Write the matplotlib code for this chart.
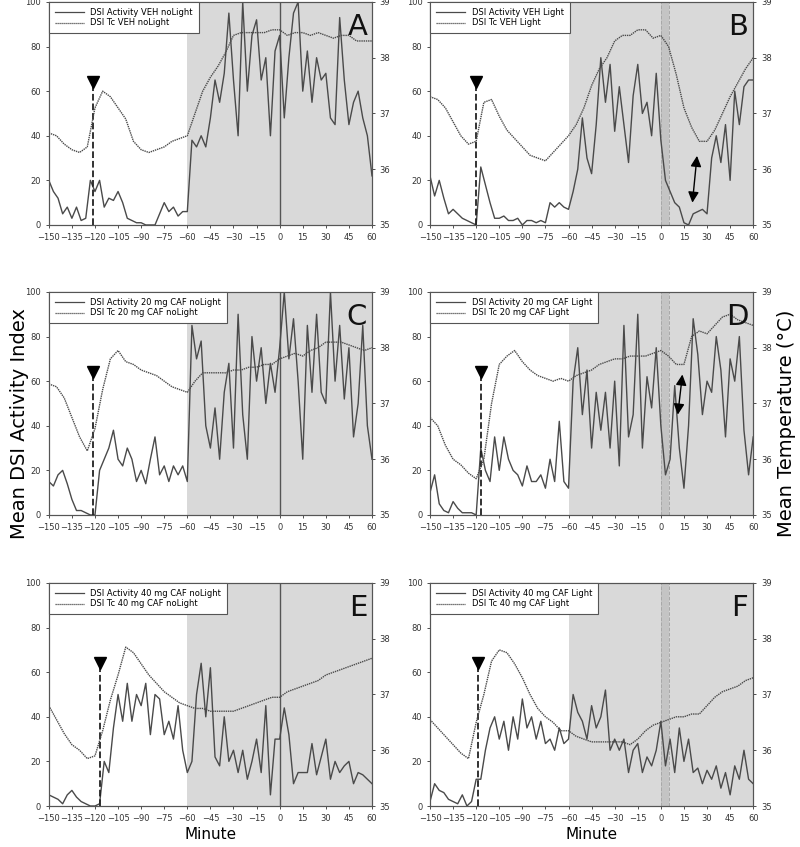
import numpy as np
import matplotlib.pyplot as plt
from matplotlib.lines import Line2D

# activity sampled every 3 min, temperature every 5 min
t_act = list(range(-150, 61, 3))
t_tmp = list(range(-150, 61, 5))

act_A = [20, 15, 12, 5, 8, 3, 8, 2, 3, 20, 15, 20, 8, 12, 11, 15, 10, 3, 2, 1, 1, 0, 0, 0,
         5, 10, 6, 8, 4, 6, 6, 38, 35, 40, 35, 48, 65, 55, 68, 95, 65, 40, 100, 60, 85, 92,
         65, 75, 40, 78, 85, 48, 75, 95, 100, 60, 78, 55, 75, 65, 68, 48, 45, 93, 65, 45,
         55, 60, 48, 40, 22]
act_B = [22, 13, 20, 12, 5, 7, 5, 3, 2, 1, 0, 26, 18, 10, 3, 3, 4, 2, 2, 3, 0, 2, 2, 1,
         2, 1, 10, 8, 10, 8, 7, 15, 25, 48, 30, 23, 45, 75, 55, 72, 42, 62, 45, 28, 58, 72,
         50, 55, 40, 68, 38, 20, 15, 10, 8, 1, 0, 5, 6, 7, 5, 30, 40, 28, 45, 20, 60, 45,
         62, 65, 65]
act_C = [15, 13, 18, 20, 14, 7, 2, 2, 1, 0, 0, 20, 25, 30, 38, 25, 22, 30, 25, 15, 20, 14,
         25, 35, 18, 22, 15, 22, 18, 22, 15, 85, 70, 78, 40, 30, 48, 25, 55, 68, 30, 90,
         45, 25, 80, 60, 75, 50, 68, 55, 75, 100, 70, 88, 60, 25, 85, 55, 90, 55, 50, 100,
         60, 85, 52, 75, 35, 50, 85, 40, 25]
act_D = [10, 18, 5, 2, 1, 6, 3, 1, 1, 1, 0, 30, 20, 15, 35, 20, 35, 25, 20, 18, 13, 22,
         15, 15, 18, 12, 25, 15, 42, 15, 12, 60, 75, 45, 65, 30, 55, 38, 55, 30, 60, 22,
         85, 35, 45, 90, 30, 62, 48, 75, 40, 18, 25, 58, 30, 12, 40, 88, 72, 45, 60, 55,
         80, 65, 35, 70, 60, 80, 38, 18, 35]
act_E = [5, 4, 3, 1, 5, 7, 4, 2, 1, 0, 0, 1, 20, 15, 35, 50, 38, 55, 38, 50, 45, 55, 32,
         50, 48, 32, 38, 30, 45, 25, 15, 20, 50, 64, 40, 62, 22, 18, 40, 20, 25, 15, 25,
         12, 20, 30, 15, 45, 5, 30, 30, 44, 32, 10, 15, 15, 15, 28, 14, 22, 30, 12, 20,
         15, 18, 20, 10, 15, 14, 12, 10]
act_F = [2, 10, 7, 6, 3, 2, 1, 5, 0, 2, 12, 12, 25, 35, 40, 30, 38, 25, 40, 30, 48, 35,
         40, 30, 38, 28, 30, 25, 35, 28, 30, 50, 42, 38, 30, 45, 35, 40, 52, 25, 30, 25,
         30, 15, 25, 28, 15, 22, 18, 25, 38, 18, 30, 15, 35, 20, 30, 15, 17, 10, 16, 12,
         18, 8, 15, 5, 18, 12, 25, 12, 10]

tmp_A = [36.65, 36.6, 36.45, 36.35, 36.3, 36.4, 37.1, 37.4, 37.3, 37.1, 36.9, 36.5, 36.35,
         36.3, 36.35, 36.4, 36.5, 36.55, 36.6, 37.0, 37.4, 37.65, 37.85, 38.1, 38.4, 38.45,
         38.45, 38.45, 38.45, 38.5, 38.5, 38.4, 38.45, 38.45, 38.4, 38.45, 38.4, 38.35,
         38.4, 38.4, 38.3, 38.3, 38.3]
tmp_B = [37.3, 37.25, 37.1, 36.85, 36.6, 36.45, 36.5, 37.2, 37.25, 36.95, 36.7, 36.55,
         36.4, 36.25, 36.2, 36.15, 36.3, 36.45, 36.6, 36.8, 37.1, 37.5, 37.8, 38.0, 38.3,
         38.4, 38.4, 38.5, 38.5, 38.35, 38.4, 38.2, 37.7, 37.1, 36.75, 36.5, 36.5, 36.7,
         37.0, 37.3, 37.55, 37.8, 38.0]
tmp_C = [37.35, 37.3, 37.1, 36.75, 36.4, 36.15, 36.55, 37.25, 37.8, 37.95, 37.75, 37.7,
         37.6, 37.55, 37.5, 37.4, 37.3, 37.25, 37.2, 37.4, 37.55, 37.55, 37.55, 37.55,
         37.6, 37.6, 37.65, 37.65, 37.7, 37.7, 37.8, 37.85, 37.9, 37.85, 37.95, 38.0,
         38.1, 38.1, 38.1, 38.05, 38.0, 37.95, 38.0]
tmp_D = [36.75, 36.6, 36.25, 36.0, 35.9, 35.75, 35.65, 36.0, 37.0, 37.7, 37.85, 37.95,
         37.75, 37.6, 37.5, 37.45, 37.4, 37.45, 37.4, 37.5, 37.55, 37.6, 37.7, 37.75, 37.8,
         37.8, 37.85, 37.85, 37.85, 37.9, 37.95, 37.85, 37.7, 37.7, 38.2, 38.3, 38.25, 38.4,
         38.55, 38.6, 38.5, 38.45, 38.4]
tmp_E = [36.8, 36.55, 36.3, 36.1, 36.0, 35.85, 35.9, 36.35, 36.9, 37.35, 37.85, 37.75,
         37.55, 37.35, 37.2, 37.05, 36.95, 36.85, 36.8, 36.75, 36.75, 36.7, 36.7, 36.7,
         36.7, 36.75, 36.8, 36.85, 36.9, 36.95, 36.95, 37.05, 37.1, 37.15, 37.2, 37.25,
         37.35, 37.4, 37.45, 37.5, 37.55, 37.6, 37.65]
tmp_F = [36.55, 36.4, 36.25, 36.1, 35.95, 35.85, 36.5, 37.0, 37.6, 37.8, 37.75, 37.55,
         37.3, 37.0, 36.75, 36.6, 36.5, 36.35, 36.35, 36.25, 36.2, 36.15, 36.15, 36.15,
         36.15, 36.15, 36.1, 36.2, 36.35, 36.45, 36.5, 36.55, 36.6, 36.6, 36.65, 36.65,
         36.8, 36.95, 37.05, 37.1, 37.15, 37.25, 37.3]

letters = ['A', 'B', 'C', 'D', 'E', 'F']
groups = ['VEH noLight', 'VEH Light', '20 mg CAF noLight', '20 mg CAF Light',
          '40 mg CAF noLight', '40 mg CAF Light']
acts = [act_A, act_B, act_C, act_D, act_E, act_F]
tmps = [tmp_A, tmp_B, tmp_C, tmp_D, tmp_E, tmp_F]
inj_time = [-121, -120, -121, -117, -117, -119]
light = [False, True, False, True, False, True]
# double arrows (panel index: x, y_low, y_high)
dbl_arrows = {1: (22, 10, 31), 3: (12.5, 45, 63)}

fig = plt.figure(figsize=(8, 8.47), dpi=100)

lefts = [0.061, 0.5375]
bottoms = [0.7344, 0.392, 0.0484]
w, h = 0.404, 0.2633

line_col = '#4a4a4a'
shade = '#d9d9d9'

for i in range(6):
    r, c = divmod(i, 2)
    ax = fig.add_axes([lefts[c], bottoms[r], w, h])
    ax.axvspan(-60, 60, color=shade, lw=0, zorder=0)
    if light[i]:
        ax.axvspan(0, 5, color='#c4c4c4', lw=0, zorder=0.5)
        ax.axvline(0, color='#a8a8a8', ls='--', lw=0.7, zorder=0.6)
        ax.axvline(5, color='#a8a8a8', ls='--', lw=0.7, zorder=0.6)
    else:
        ax.axvline(0, color='#555555', lw=1.0, zorder=0.6)

    ax.plot(t_act, acts[i], color=line_col, lw=1.0, zorder=2)
    ax.set_xlim(-150, 60)
    ax.set_ylim(0, 100)
    ax.set_xticks(range(-150, 61, 15))
    ax.set_yticks(range(0, 101, 20))
    ax.tick_params(labelsize=6, length=2, width=0.6, colors='#333333')
    for s in ax.spines.values():
        s.set_color('#555555')
        s.set_linewidth(0.8)

    # injection marker
    ax.plot([inj_time[i], inj_time[i]], [0, 62], color='#222222', ls='--', lw=1.3, zorder=3)
    ax.plot(inj_time[i], 64, marker='v', ms=9, color='black', zorder=4)

    if i in dbl_arrows:
        x, y0, y1 = dbl_arrows[i]
        ax.annotate('', xy=(x + 1.5, y1), xytext=(x - 1.5, y0),
                    arrowprops=dict(arrowstyle='<|-|>', color='black', lw=1.0,
                                    mutation_scale=16, shrinkA=0, shrinkB=0), zorder=5)

    ax2 = ax.twinx()
    ax2.plot(t_tmp, tmps[i], color=line_col, lw=1.0, ls=(0, (1, 0.6)), zorder=2)
    ax2.set_ylim(35, 39)
    ax2.set_yticks([35, 36, 37, 38, 39])
    ax2.tick_params(labelsize=6, length=2, width=0.6, colors='#333333')
    for s in ax2.spines.values():
        s.set_color('#555555')
        s.set_linewidth(0.8)

    handles = [Line2D([], [], color=line_col, lw=0.9),
               Line2D([], [], color=line_col, lw=0.9, ls=(0, (1, 0.6)))]
    labels = ['DSI Activity ' + groups[i], 'DSI Tc ' + groups[i]]
    leg = ax2.legend(handles, labels, loc='upper left', fontsize=6, frameon=True,
                     fancybox=False, borderaxespad=0, handlelength=3.5,
                     labelspacing=0.2, borderpad=0.7, framealpha=1)
    leg.get_frame().set_edgecolor('#555555')
    leg.get_frame().set_linewidth(0.8)

    ax2.text(0.985, 0.95, letters[i], transform=ax2.transAxes, ha='right', va='top',
             fontsize=21, color='#111111')

    if r == 2:
        ax.set_xlabel('Minute', fontsize=11, labelpad=3)

fig.text(0.012, 0.5, 'Mean DSI Activity Index', rotation=90, va='center', ha='left',
         fontsize=14)
fig.text(0.995, 0.5, 'Mean Temperature (\u00b0C)', rotation=90, va='center', ha='right',
         fontsize=14)

fig.savefig('out.png', dpi=100)
